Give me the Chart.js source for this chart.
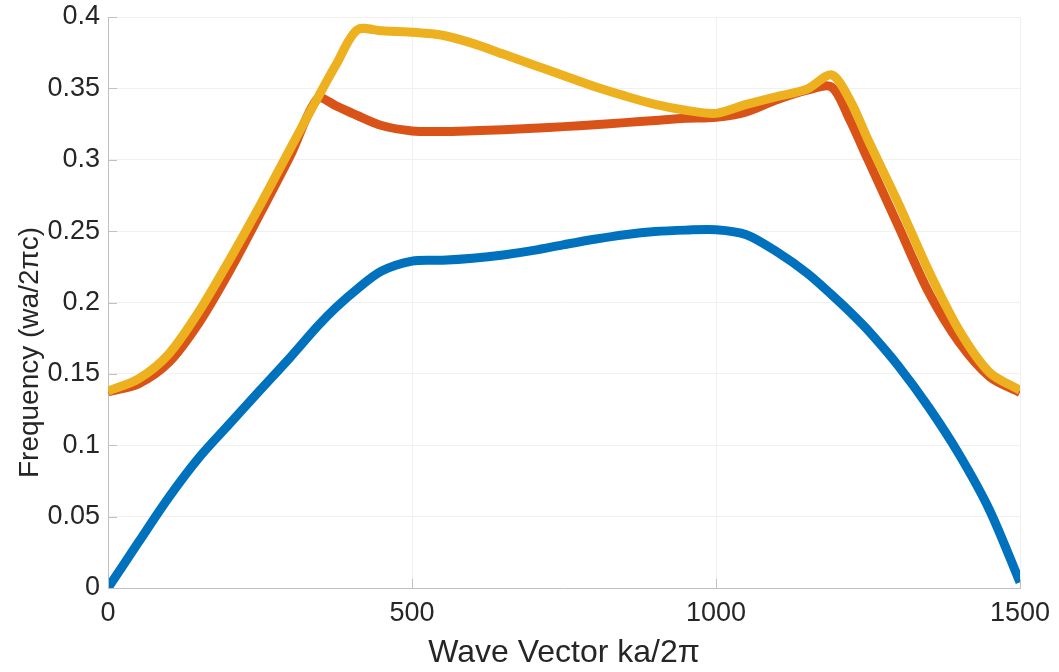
<!DOCTYPE html>
<html>
<head>
<meta charset="utf-8">
<script src="https://cdn.jsdelivr.net/npm/chart.js@4.4.0/dist/chart.umd.min.js"></script>
<style>
  html, body { margin: 0; padding: 0; background: #fff; }
  #wrap { width: 1059px; height: 672px; }
</style>
</head>
<body>
<div id="wrap"><canvas id="bands"></canvas></div>
<script>
// wave vector positions (x)
const waveVector = [0, 50, 100, 150, 200, 250, 300, 345, 375, 410, 450, 500, 550, 600, 650, 700, 750,
  800, 850, 900, 950, 1000, 1050, 1100, 1150, 1190, 1220, 1250, 1300, 1350, 1400, 1450, 1500];

// band 1 (blue)
const band1 = [0, 0.032, 0.0635, 0.0915, 0.115, 0.1385, 0.1617, 0.1835, 0.1965, 0.2095, 0.222, 0.229, 0.2296,
  0.231, 0.2333, 0.2365, 0.2405, 0.2443, 0.2475, 0.2497, 0.2507, 0.251, 0.2475, 0.2355, 0.2205, 0.2055, 0.1935,
  0.1805, 0.1555, 0.1265, 0.0935, 0.0545, 0.004];

// band 2 (orange)
const band2 = [0.1375, 0.143, 0.158, 0.186, 0.222, 0.262, 0.303, 0.343, 0.3378, 0.331, 0.324, 0.3202, 0.3198,
  0.3203, 0.321, 0.322, 0.3232, 0.3245, 0.326, 0.3275, 0.329, 0.3297, 0.3335, 0.342, 0.3487, 0.351, 0.328,
  0.300, 0.2535, 0.207, 0.172, 0.148, 0.137];

// band 3 (yellow)
const band3 = [0.138, 0.1465, 0.164, 0.194, 0.230, 0.268, 0.308, 0.3435, 0.3665, 0.391, 0.3903, 0.3893, 0.3872,
  0.3815, 0.374, 0.3664, 0.3589, 0.3513, 0.3447, 0.3388, 0.3347, 0.3325, 0.3388, 0.3443, 0.3495, 0.3595, 0.342,
  0.314, 0.2695, 0.222, 0.1805, 0.151, 0.1385];

const xTicks = [0, 500, 1000, 1500];
const yTicks = [0, 0.05, 0.1, 0.15, 0.2, 0.25, 0.3, 0.35, 0.4];
const yLabel = 'Frequency (wa/2πc)';

const toPoints = (ys) => waveVector.map((x, i) => ({ x: x, y: ys[i] }));

const FONT = 'Liberation Sans, Arial, Helvetica, sans-serif';
const TEXT = '#262626';

// MATLAB-style inward tick marks + the y label (sits a bit low in the original)
const axisExtras = {
  id: 'axisExtras',
  afterDraw(chart) {
    const ctx = chart.ctx;
    const xs = chart.scales.x;
    const ys = chart.scales.y;
    const area = chart.chartArea;
    ctx.save();
    ctx.strokeStyle = '#c0c0c0';
    ctx.lineWidth = 1;
    ctx.beginPath();
    xTicks.forEach(v => {
      const px = Math.round(xs.getPixelForValue(v)) + 0.5;
      ctx.moveTo(px, area.bottom);
      ctx.lineTo(px, area.bottom - 9);
    });
    yTicks.forEach(v => {
      const py = Math.round(ys.getPixelForValue(v)) + 0.5;
      ctx.moveTo(area.left, py);
      ctx.lineTo(area.left + 9, py);
    });
    ctx.stroke();

    ctx.translate(30, ys.getPixelForValue(0.165));
    ctx.rotate(-Math.PI / 2);
    ctx.fillStyle = TEXT;
    ctx.font = '28px ' + FONT;
    ctx.textAlign = 'center';
    ctx.textBaseline = 'middle';
    ctx.fillText(yLabel, 0, 0);
    ctx.restore();
  }
};

const mkSet = (label, ys, color, order) => ({
  label: label,
  data: toPoints(ys),
  borderColor: color,
  backgroundColor: color,
  borderWidth: 9,
  pointRadius: 0,
  tension: 0.3,
  borderJoinStyle: 'round',
  borderCapStyle: 'butt',
  fill: false,
  order: order
});

new Chart(document.getElementById('bands'), {
  type: 'line',
  data: {
    datasets: [
      mkSet('Band 1', band1, '#0072BD', 3),
      mkSet('Band 2', band2, '#D95319', 2),
      mkSet('Band 3', band3, '#EDB120', 1)
    ]
  },
  options: {
    responsive: true,
    maintainAspectRatio: false,
    animation: false,
    layout: { padding: { top: 17, right: 39, left: 0, bottom: 0 } },
    plugins: {
      legend: { display: false },
      tooltip: { enabled: false }
    },
    scales: {
      x: {
        type: 'linear',
        min: 0,
        max: 1500,
        afterBuildTicks: (s) => { s.ticks = xTicks.map(v => ({ value: v })); },
        afterFit: (s) => { s.height = 84; s.paddingLeft = 0; s.paddingRight = 0; },
        ticks: {
          color: TEXT,
          font: { family: FONT, size: 27 },
          padding: 9,
          maxRotation: 0,
          callback: (v) => String(v)
        },
        grid: { color: '#f0f0f0', drawTicks: false },
        border: { color: '#c0c0c0', width: 1 },
        title: {
          display: true,
          text: 'Wave Vector ka/2π',
          color: TEXT,
          font: { family: FONT, size: 32 },
          padding: { top: 0, bottom: 0 }
        }
      },
      y: {
        min: 0,
        max: 0.4,
        afterBuildTicks: (s) => { s.ticks = yTicks.map(v => ({ value: v })); },
        afterFit: (s) => { s.width = 108; s.paddingTop = 0; s.paddingBottom = 0; },
        ticks: {
          color: TEXT,
          font: { family: FONT, size: 27 },
          padding: 8,
          callback: (v) => String(Number(v.toFixed(2)))
        },
        grid: { color: '#f0f0f0', drawTicks: false },
        border: { color: '#c0c0c0', width: 1 }
      }
    }
  },
  plugins: [axisExtras]
});
</script>
</body>
</html>
